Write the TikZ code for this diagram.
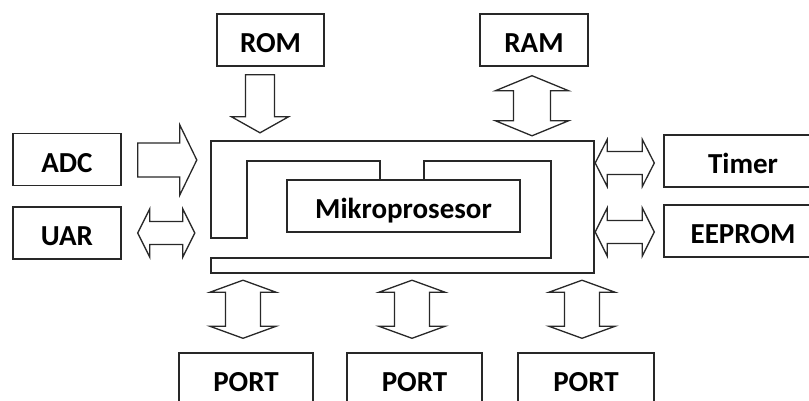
\documentclass[tikz,border=0pt]{standalone}
\usepackage{fontspec}
\setmainfont{Carlito}
\usetikzlibrary{positioning, calc}
\definecolor{InkGray}{RGB}{40,40,40}
\tikzset{
  blk/.style={draw=InkGray, line width=1.4pt, minimum height=52, inner sep=0pt,
    font=\fontsize{29}{32}\selectfont\bfseries, text height=31pt, text depth=6pt},
  bus/.style={draw=InkGray, line width=1.4pt},
  blockarr/.style={draw=InkGray, line width=1.3pt, line join=miter, fill=white},
}
% block arrows: tail/tip, shaft half width, head half width, head length
\newcommand{\sglarrow}[5]{%
  \coordinate (hh) at ($(#2)!#5!(#1)$);
  \draw[blockarr] ($(#1)!#3!90:(#2)$) -- ($(hh)!#3!-90:(#1)$) -- ($(hh)!#4!-90:(#1)$) -- (#2)
    -- ($(hh)!#4!90:(#1)$) -- ($(hh)!#3!90:(#1)$) -- ($(#1)!#3!-90:(#2)$) -- cycle;
}
\newcommand{\dblarrow}[5]{%
  \coordinate (ha) at ($(#1)!#5!(#2)$);
  \coordinate (hb) at ($(#2)!#5!(#1)$);
  \draw[blockarr] (#1) -- ($(ha)!#4!90:(#2)$) -- ($(ha)!#3!90:(#2)$) -- ($(hb)!#3!-90:(#1)$)
    -- ($(hb)!#4!-90:(#1)$) -- (#2) -- ($(hb)!#4!90:(#1)$) -- ($(hb)!#3!90:(#1)$)
    -- ($(ha)!#3!-90:(#2)$) -- ($(ha)!#4!-90:(#2)$) -- cycle;
}

\begin{document}
\begin{tikzpicture}[x=1pt, y=-1pt]
  \useasboundingbox (0,0) rectangle (809,401);
  \clip (0,0) rectangle (809,401);
  % microcontroller body and bus
  \node[minimum width=383, minimum height=132, inner sep=0pt] (mcu) at (402.5,207) {};
  \node[blk, minimum width=233] (cpu) at (403.5,206) {Mikroprosesor};
  \draw[bus] (380,180) |- (247,161) |- (211,238) |- (594,141) |- (211,273) -- (211,258)
    -| (551,161) -| (424,180);
  % peripherals
  \node[blk, minimum width=107] (rom) at (270.5,40) {ROM};
  \node[blk, minimum width=108] (ram) at (534,40) {RAM};
  \node[blk, minimum width=108] (adc) at (67,159.5) {ADC};
  \node[blk, minimum width=108] (uar) at (67,233) {UAR};
  \node[blk, minimum width=158] (timer) at (743,161) {Timer};
  \node[blk, minimum width=158] (eeprom) at (743,231) {EEPROM};
  % arrow ends
  \coordinate (roma) at ($(rom.south)+(-10.5,8)$);
  \coordinate (romb) at ($(rom.south |- mcu.north)+(-10.5,-8)$);
  \coordinate (rama) at ($(ram.south)+(-2,9)$);
  \coordinate (ramb) at ($(ram.south |- mcu.north)+(-2,-5)$);
  \coordinate (adca) at ($(adc.east)+(16,0.5)$);
  \coordinate (adcb) at ($(adc.east -| mcu.west)+(-14,0.5)$);
  \coordinate (uara) at ($(uar.east)+(16,0)$);
  \coordinate (uarb) at ($(uar.east -| mcu.west)+(-16,0)$);
  \coordinate (tima) at ($(timer.west -| mcu.east)+(1,2)$);
  \coordinate (timb) at ($(timer.west)+(-9,2)$);
  \coordinate (eepa) at ($(eeprom.west -| mcu.east)+(1,1)$);
  \coordinate (eepb) at ($(eeprom.west)+(-9,1)$);
  \sglarrow{roma}{romb}{14.5pt}{28.5pt}{16pt}
  \dblarrow{rama}{ramb}{18.5pt}{36.5pt}{15pt}
  \sglarrow{adca}{adcb}{17pt}{35pt}{17pt}
  \dblarrow{uara}{uarb}{11.5pt}{24pt}{12pt}
  \dblarrow{tima}{timb}{11.5pt}{23.5pt}{12pt}
  \dblarrow{eepa}{eepb}{11.5pt}{24pt}{12pt}
  % ports
  \foreach \i/\x/\w/\d in {1/246/134/-3, 2/414.5/135/-2.5, 3/586/136/-4} {
    \node[blk, minimum width=\w] (p\i) at (\x,379) {PORT};
    \coordinate (pa\i) at ($(p\i.north |- mcu.south)+(\d,7)$);
    \coordinate (pb\i) at ($(p\i.north)+(\d,-14)$);
    \dblarrow{pa\i}{pb\i}{17.5pt}{33pt}{12pt}
  }
\end{tikzpicture}
\end{document}
